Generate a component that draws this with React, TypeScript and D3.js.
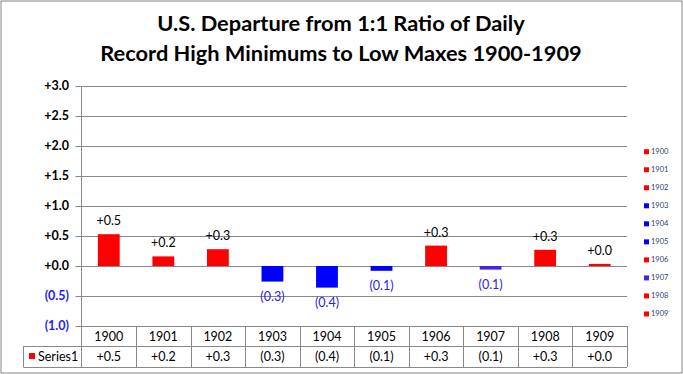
import React from "react";
import * as d3 from "d3";

const years = ["1900", "1901", "1902", "1903", "1904", "1905", "1906", "1907", "1908", "1909"];
const values = [0.53, 0.16, 0.28, -0.26, -0.36, -0.08, 0.34, -0.06, 0.27, 0.035];
const barColors = ["#FF0000", "#FF0000", "#FF0000", "#0000FF", "#0000FF", "#0000FF", "#FF0000", "#4422EE", "#FF0000", "#FF0000"];
const yTicks = [3.0, 2.5, 2.0, 1.5, 1.0, 0.5, 0.0, -0.5, -1.0];
const titleLines = ["U.S. Departure from 1:1 Ratio of Daily", "Record High Minimums to Low Maxes 1900-1909"];
const seriesName = "Series1";

const W = 683, H = 374;
const plot = { left: 81.5, right: 627, top: 86, bottom: 326 };
const font = "Lato, 'Open Sans', sans-serif";

const fmt = (v: number) => (v >= 0 ? "+" + v.toFixed(1) : "(" + Math.abs(v).toFixed(1) + ")");

export default function App() {
  const x = d3.scaleBand<string>().domain(years).range([plot.left, plot.right]).paddingInner(0.6).paddingOuter(0.3);
  const xc = d3.scaleBand<string>().domain(years).range([plot.left, plot.right]);
  const y = d3.scaleLinear().domain([-1, 3]).range([plot.bottom, plot.top]);
  const row1 = 346, row2 = 367;
  const grid = "#888888";
  return (
    <svg width={W} height={H} style={{ position: "absolute", left: 0, top: 0, background: "#fff" }}>
      <rect x={1} y={1} width={W - 2} height={H - 2} fill="#fff" stroke="#868686" strokeWidth={1} />
      {titleLines.map((t, i) => (
        <text key={i} x={341} y={31 + i * 30} textAnchor="middle" fontFamily={font} fontWeight="bold" fontSize={21.8} fill="#000">{t}</text>
      ))}
      {yTicks.map((t) => (
        <g key={t}>
          <line x1={plot.left - 6} x2={plot.right} y1={Math.round(y(t)) + 0.5} y2={Math.round(y(t)) + 0.5} stroke={grid} strokeWidth={1} />
          <text x={69} y={y(t) + 4} textAnchor="end" fontFamily={font} fontWeight="bold" fontSize={12.5} fill={t < 0 ? "#1F1FEF" : "#000"}>{fmt(t)}</text>
        </g>
      ))}
      <line x1={plot.left} x2={plot.left} y1={plot.top} y2={row2} stroke={grid} />
      {years.map((yr, i) => {
        const v = values[i];
        const y0 = y(0), y1 = y(v);
        const top = Math.min(y0, y1), h = Math.abs(y1 - y0);
        const cx = x(yr)! + x.bandwidth() / 2;
        return (
          <g key={yr}>
            <rect x={x(yr)} y={top} width={x.bandwidth()} height={Math.max(h, 1.5)} fill={barColors[i]} />
            <text x={cx} y={v >= 0 ? top - 9 : top + h + 19} textAnchor="middle" fontFamily={font} fontSize={12.5} fill={v >= 0 ? "#000" : "#2B1BEE"}>{fmt(v)}</text>
          </g>
        );
      })}
      {/* data table */}
      <line x1={23.5} x2={plot.right} y1={row1 + 0.5} y2={row1 + 0.5} stroke={grid} />
      <line x1={23.5} x2={plot.right} y1={row2 + 0.5} y2={row2 + 0.5} stroke={grid} />
      <line x1={23.5} x2={23.5} y1={row1} y2={row2} stroke={grid} />
      {years.map((yr, i) => {
        const x1 = xc(yr)! + xc.bandwidth();
        const cx = xc(yr)! + xc.bandwidth() / 2;
        return (
          <g key={"t" + yr}>
            <line x1={Math.round(x1) + 0.5} x2={Math.round(x1) + 0.5} y1={plot.bottom} y2={row2} stroke={grid} />
            <text x={cx} y={341} textAnchor="middle" fontFamily={font} fontSize={12.5} fill="#000">{yr}</text>
            <text x={cx} y={361} textAnchor="middle" fontFamily={font} fontSize={12.5} fill="#000">{fmt(values[i])}</text>
          </g>
        );
      })}
      <rect x={29} y={353} width={6} height={6} fill="#FF0000" />
      <text x={38} y={361} fontFamily={font} fontSize={12.5} fill="#000">{seriesName}</text>
      {/* legend */}
      {years.map((yr, i) => {
        const ly = 151.7 + i * 18.03;
        return (
          <g key={"l" + yr}>
            <rect x={644} y={ly - 2.5} width={5} height={5} fill={barColors[i]} />
            <text x={651} y={ly + 2.5} fontFamily={font} fontSize={7.5} fill="#2E3E6E">{yr}</text>
          </g>
        );
      })}
    </svg>
  );
}
